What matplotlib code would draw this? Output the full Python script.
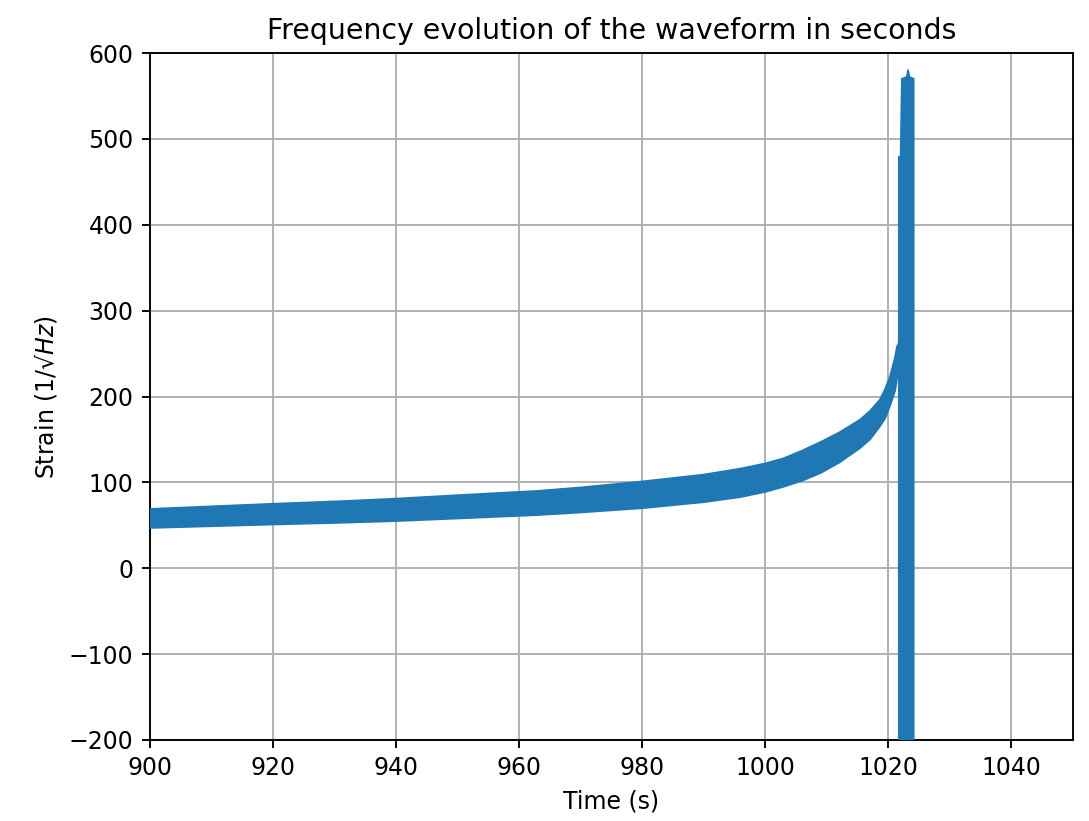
import matplotlib
matplotlib.use("Agg")
import matplotlib.pyplot as plt
import numpy as np

# Envelope of the instantaneous frequency track (time in s, values per axis)
time_s = [900, 910, 920, 931, 940, 950, 963, 970, 980, 990, 996, 1000,
          1003, 1006, 1009, 1012, 1015.4, 1017.0, 1018.6, 1019.5, 1020.3,
          1021.1, 1021.4, 1021.7,
          1021.7, 1022.0, 1022.2, 1023.0, 1023.2, 1023.4, 1024.1, 1024.1]
upper = [69, 72, 75, 78, 81, 85, 90, 94, 101, 109, 116, 122,
         128, 137, 147, 158, 173, 183, 196, 209, 224,
         246, 258, 262,
         479, 479, 570, 572, 580, 572, 570, -900]
lower = [47, 49, 51, 53, 55, 58, 62, 65, 70, 77, 83, 89,
         95, 102, 111, 123, 140, 150, 165, 175, 190,
         207, 222, 228,
         -900, -900, -900, -900, -900, -900, -900, -900]

x_ticks = [900, 920, 940, 960, 980, 1000, 1020, 1040]
y_ticks = [-200, -100, 0, 100, 200, 300, 400, 500, 600]

fig = plt.figure(figsize=(1089 / 170, 821 / 170), dpi=170)
ax = fig.add_axes([0.1377, 0.0987, 0.8476, 0.8367])

ax.fill_between(time_s, lower, upper, color="#1f77b4", linewidth=0.8,
                edgecolor="#1f77b4", zorder=3)

ax.set_xlim(900, 1050)
ax.set_ylim(-200, 600)
ax.set_xticks(x_ticks)
ax.set_yticks(y_ticks)
ax.grid(True, zorder=0)
ax.set_axisbelow(True)

ax.set_title("Frequency evolution of the waveform in seconds")
ax.set_xlabel("Time (s)")
ax.set_ylabel("Strain (1/\u221a$Hz$)")

fig.savefig("out.png", dpi=170)
